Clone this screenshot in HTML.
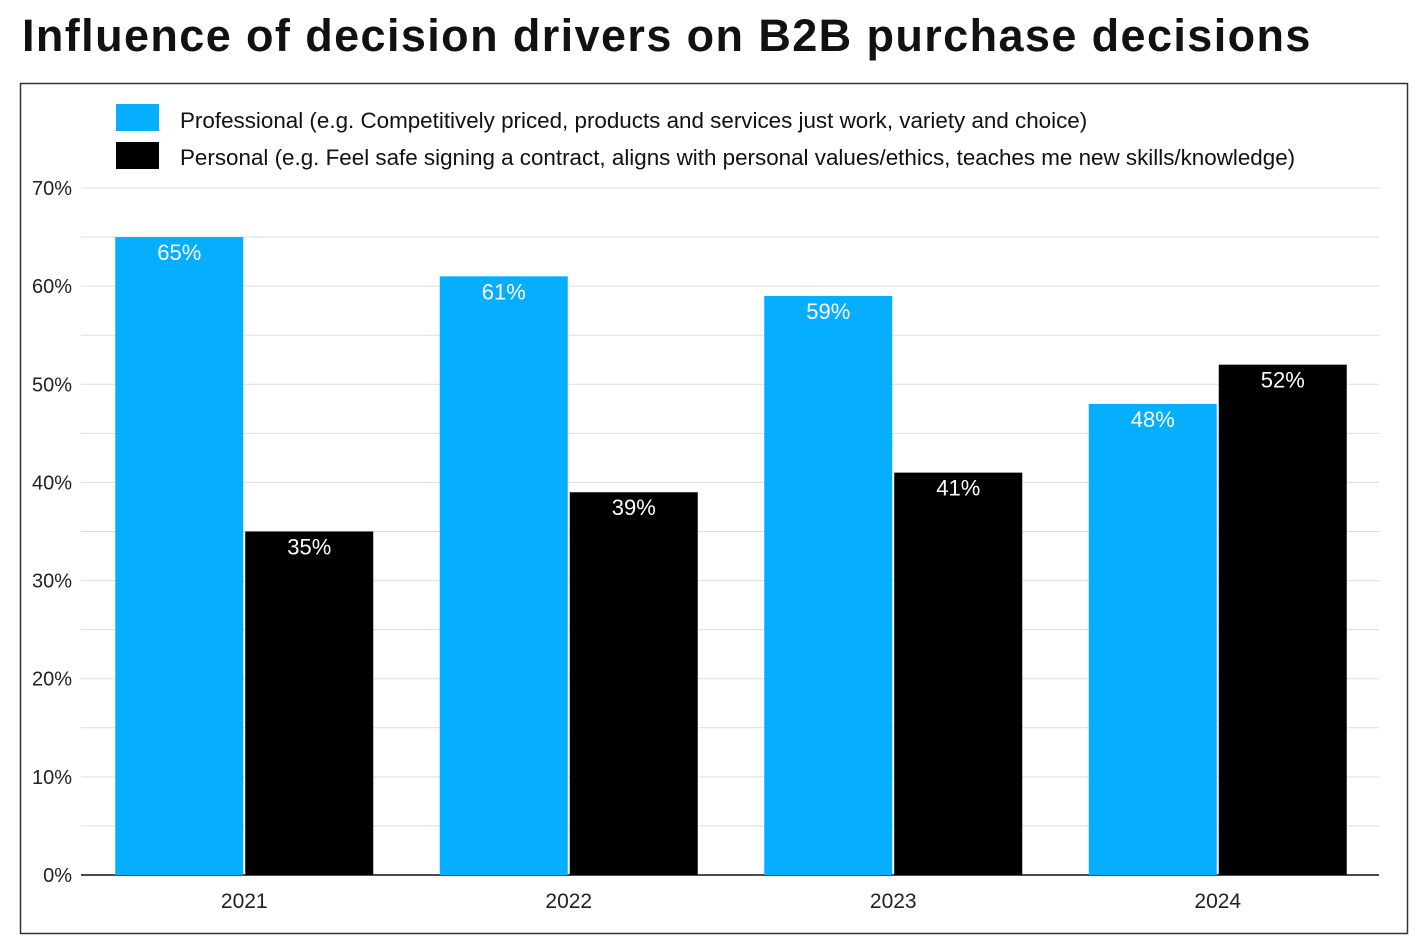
<!DOCTYPE html>
<html><head><meta charset="utf-8"><style>
body{margin:0;background:#fff;width:1426px;height:943px;overflow:hidden;font-family:"Liberation Sans",sans-serif}
#title{position:absolute;left:22px;top:10px;font-size:45px;font-weight:bold;color:#111;letter-spacing:1.4px;white-space:nowrap}
svg{position:absolute;left:0;top:0}
</style></head><body>
<div id="title">Influence of decision drivers on B2B purchase decisions</div>
<svg id="chart" width="1426" height="943">
<rect x="20.5" y="83.5" width="1387" height="850" fill="none" stroke="#333" stroke-width="1.5"/>
<rect x="116" y="104" width="43" height="27" fill="#05AEFF"/>
<text x="180" y="128" font-size="22.4" fill="#111">Professional (e.g. Competitively priced, products and services just work, variety and choice)</text>
<rect x="116" y="142" width="43" height="27" fill="#000"/>
<text x="180" y="165" font-size="22.4" fill="#111">Personal (e.g. Feel safe signing a contract, aligns with personal values/ethics, teaches me new skills/knowledge)</text>
<g id="grid"></g><g id="bars"></g><g id="labels"></g>
</svg>
<script>
const categories=["2021","2022","2023","2024"];
const professional=[65,61,59,48];
const personal=[35,39,41,52];
const yTicks=[0,10,20,30,40,50,60,70];
const ns="http://www.w3.org/2000/svg";
const x0=81,x1=1379,y0=875,yTop=188,maxV=70;
function y(v){return y0-(v/maxV)*(y0-yTop);}
const groupW=(x1-x0)/categories.length;
function gx(i){return x0+groupW*(i+0.5);}
function mk(tag,attrs,parent){const e=document.createElementNS(ns,tag);for(const k in attrs)e.setAttribute(k,attrs[k]);parent.appendChild(e);return e;}
const grid=document.getElementById('grid'),bars=document.getElementById('bars'),labels=document.getElementById('labels');
for(let v=5;v<=maxV;v+=5){
  const l=mk('line',{x1:x0,x2:x1,y1:y(v),y2:y(v),stroke:'#ddd','stroke-width':1},grid);
  
  
}
yTicks.forEach(v=>{
  const t=mk('text',{x:72,y:y(v)+7,'text-anchor':'end','font-size':20,fill:'#222'},grid);
  t.textContent=v+'%';
  
  
});
const ax=mk('line',{x1:x0,x2:x1,y1:y0,y2:y0,stroke:'#111','stroke-width':1.5},grid);


const bw=128;
categories.forEach((c,i)=>{
  const cx=gx(i);
  [[professional[i],cx-bw,'#05AEFF','professional'],[personal[i],cx+2,'#000','personal']].forEach(([v,bx,col,nm])=>{
    const r=mk('rect',{x:bx,y:y(v),width:bw,height:y0-y(v),fill:col},bars);
    
    
    const t=mk('text',{x:bx+bw/2,y:y(v)+23,'text-anchor':'middle','font-size':22,fill:'#fff'},labels);
    t.textContent=v+'%';
    
    
  });
  const t=mk('text',{x:cx+1,y:908,'text-anchor':'middle','font-size':21,fill:'#222'},labels);
  t.textContent=c;
  
  
});
</script>
</body></html>
